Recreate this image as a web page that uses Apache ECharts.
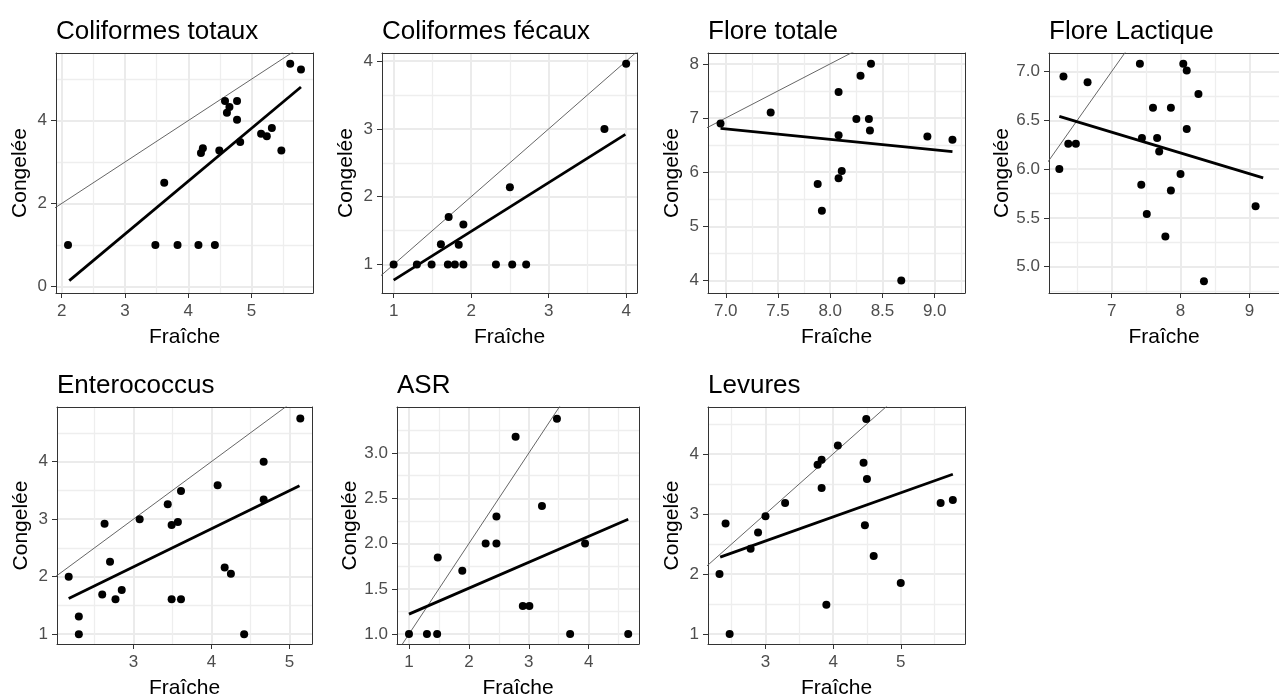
<!DOCTYPE html>
<html>
<head>
<meta charset="utf-8">
<script src="https://cdn.jsdelivr.net/npm/echarts@6/dist/echarts.min.js"></script>
<style>
  html, body { margin: 0; padding: 0; background: #fff; }
  #chart { width: 1279px; height: 700px; }
</style>
</head>
<body>
<div id="chart"></div>
<script>
// panel titles
const titles = ["Coliformes totaux", "Coliformes fécaux", "Flore totale", "Flore Lactique", "Enterococcus", "ASR", "Levures"];

// points (Fraîche = x, Congelée = y)
const totauxX = [2.1, 3.48, 3.83, 4.16, 4.42, 3.62, 4.2, 4.23, 4.49, 4.58, 4.65, 4.61, 4.77, 4.77, 4.82, 5.15, 5.24, 5.32, 5.47, 5.61, 5.78];
const totauxY = [1, 1, 1, 1, 1, 2.5, 3.22, 3.33, 3.28, 4.47, 4.33, 4.19, 4.47, 4.02, 3.48, 3.68, 3.62, 3.82, 3.28, 5.37, 5.23];

const fecauxX = [1, 1.3, 1.49, 1.7, 1.79, 1.9, 2.32, 2.53, 2.71, 1.61, 1.84, 1.71, 1.9, 2.5, 3.72, 4.0];
const fecauxY = [1, 1, 1, 1, 1, 1, 1, 1, 1, 1.3, 1.29, 1.7, 1.59, 2.14, 3.0, 3.96];

const floreTotX = [6.95, 7.43, 7.88, 7.92, 8.08, 8.08, 8.08, 8.11, 8.25, 8.29, 8.37, 8.38, 8.39, 8.68, 8.93, 9.17];
const floreTotY = [6.9, 7.1, 5.78, 5.29, 7.48, 6.68, 5.89, 6.02, 6.98, 7.78, 6.98, 6.77, 8.0, 4.0, 6.66, 6.6];

const lactiqueX = [6.24, 6.3, 6.37, 6.48, 6.65, 7.41, 7.44, 7.43, 7.51, 7.6, 7.66, 7.69, 7.78, 7.86, 7.86, 8.0, 8.04, 8.09, 8.09, 8.26, 8.34, 9.09];
const lactiqueY = [6.0, 6.95, 6.26, 6.26, 6.89, 7.08, 6.32, 5.84, 5.54, 6.63, 6.32, 6.18, 5.31, 6.63, 5.78, 5.95, 7.08, 7.01, 6.41, 6.77, 4.85, 5.62];

const enteroX = [2.17, 2.3, 2.3, 2.6, 2.63, 2.7, 2.77, 2.85, 3.08, 3.44, 3.49, 3.49, 3.57, 3.61, 3.61, 4.08, 4.17, 4.25, 4.42, 4.67, 4.67, 5.14];
const enteroY = [2.0, 1.31, 1.0, 1.69, 2.92, 2.26, 1.61, 1.77, 3.0, 3.26, 2.9, 1.61, 2.95, 3.49, 1.61, 3.59, 2.16, 2.05, 1.0, 4.0, 3.34, 4.75];

const asrX = [1, 1.3, 1.47, 1.48, 1.89, 2.28, 2.46, 2.46, 2.78, 2.9, 3.01, 3.22, 3.47, 3.69, 3.94, 4.66];
const asrY = [1, 1, 1, 1.845, 1.7, 2.0, 2.0, 2.3, 3.18, 1.31, 1.31, 2.415, 3.38, 1, 2.0, 1];

const levuresX = [2.32, 2.41, 2.47, 2.78, 2.89, 3.0, 3.29, 3.77, 3.83, 3.83, 3.9, 4.07, 4.45, 4.47, 4.49, 4.5, 4.6, 5.0, 5.59, 5.77];
const levuresY = [2.0, 2.84, 1.0, 2.42, 2.69, 2.96, 3.18, 3.82, 3.9, 3.43, 1.49, 4.14, 3.85, 2.81, 4.58, 3.58, 2.3, 1.85, 3.18, 3.23];

const pointsX = [totauxX, fecauxX, floreTotX, lactiqueX, enteroX, asrX, levuresX];
const pointsY = [totauxY, fecauxY, floreTotY, lactiqueY, enteroY, asrY, levuresY];

// regression line ends
const fitX = [[2.12, 5.78], [1.0, 3.99], [6.95, 9.17], [6.24, 9.2], [2.17, 5.13], [1.0, 4.66], [2.33, 5.77]];
const fitY = [[0.14, 4.81], [0.77, 2.92], [6.81, 6.38], [6.54, 5.91], [1.62, 3.58], [1.22, 2.27], [2.28, 3.66]];

// axis limits
const xLimits = [[1.91, 5.97], [0.85, 4.14], [6.83, 9.29], [6.09, 9.43], [2.02, 5.29], [0.80, 4.84], [2.15, 5.95]];
const yLimits = [[-0.16, 5.63], [0.58, 4.12], [3.77, 8.2], [4.73, 7.19], [0.83, 4.95], [0.89, 3.51], [0.835, 4.78]];

// tick labels
const xTickLabels = [["2", "3", "4", "5"], ["1", "2", "3", "4"], ["7.0", "7.5", "8.0", "8.5", "9.0"], ["7", "8", "9"], ["3", "4", "5"], ["1", "2", "3", "4"], ["3", "4", "5"]];
const yTickLabels = [["0", "2", "4"], ["1", "2", "3", "4"], ["4", "5", "6", "7", "8"], ["5.0", "5.5", "6.0", "6.5", "7.0"], ["1", "2", "3", "4"], ["1.0", "1.5", "2.0", "2.5", "3.0"], ["1", "2", "3", "4"]];
const xMinor = [[2.5, 3.5, 4.5, 5.5], [1.5, 2.5, 3.5], [7.25, 7.75, 8.25, 8.75, 9.25], [6.5, 7.5, 8.5], [2.5, 3.5, 4.5], [1.5, 2.5, 3.5, 4.5], [2.5, 3.5, 4.5, 5.5]];
const yMinor = [[1, 3, 5], [1.5, 2.5, 3.5], [4.5, 5.5, 6.5, 7.5], [4.75, 5.25, 5.75, 6.25, 6.75], [1.5, 2.5, 3.5, 4.5], [1.25, 1.75, 2.25, 2.75, 3.25], [1.5, 2.5, 3.5, 4.5]];

const xName = "Fraîche";
const yName = "Congelée";

// panel boxes [left, top, width, height]
const boxes = [
  [56, 53, 257, 240],
  [382, 53, 255, 240],
  [708, 53, 257, 240],
  [1049, 53, 256, 240],
  [57, 407, 255, 239],
  [397, 407, 242, 239],
  [708, 407, 257, 239]
];

const font = "'Liberation Sans', Arial, sans-serif";
const chart = echarts.init(document.getElementById("chart"));

let grids = [], xAxes = [], yAxes = [], series = [], titleList = [];

for (let i = 0; i < titles.length; i++) {
  const b = boxes[i];
  grids.push({ left: b[0], top: b[1], width: b[2], height: b[3], containLabel: false });
  titleList.push({
    text: titles[i], left: b[0], top: b[1] - 34, padding: 0,
    textStyle: { fontFamily: font, fontSize: 26, fontWeight: "normal", color: "#000" }
  });

  const xVals = xTickLabels[i].map(Number);
  const yVals = yTickLabels[i].map(Number);
  const border = { show: true, onZero: false, lineStyle: { color: "#333", width: 1 } };

  xAxes.push({
    gridIndex: i, type: "value", position: "bottom", min: xLimits[i][0], max: xLimits[i][1],
    name: xName, nameLocation: "middle", nameGap: 34,
    nameTextStyle: { fontFamily: font, fontSize: 21, color: "#000" },
    axisLine: border,
    axisTick: { show: true, length: 5, customValues: xVals, lineStyle: { color: "#333" } },
    axisLabel: {
      customValues: xVals, margin: 10, fontFamily: font, fontSize: 17, color: "#4d4d4d",
      formatter: v => xTickLabels[i][xVals.indexOf(v)]
    },
    splitLine: { show: true, lineStyle: { color: "#ebebeb", width: 2 } }
  });
  xAxes.push({
    gridIndex: i, type: "value", position: "top", min: xLimits[i][0], max: xLimits[i][1],
    axisLine: border,
    axisTick: { show: false, customValues: xMinor[i] },
    axisLabel: { show: false },
    splitLine: { show: true, lineStyle: { color: "#eeeeee", width: 1.3 } }
  });
  yAxes.push({
    gridIndex: i, type: "value", position: "left", min: yLimits[i][0], max: yLimits[i][1],
    name: yName, nameLocation: "middle", nameGap: 25,
    nameTextStyle: { fontFamily: font, fontSize: 21, color: "#000" },
    axisLine: border,
    axisTick: { show: true, length: 5, customValues: yVals, lineStyle: { color: "#333" } },
    axisLabel: {
      customValues: yVals, margin: 9, fontFamily: font, fontSize: 17, color: "#4d4d4d",
      formatter: v => yTickLabels[i][yVals.indexOf(v)]
    },
    splitLine: { show: true, lineStyle: { color: "#ebebeb", width: 2 } }
  });
  yAxes.push({
    gridIndex: i, type: "value", position: "right", min: yLimits[i][0], max: yLimits[i][1],
    axisLine: border,
    axisTick: { show: false, customValues: yMinor[i] },
    axisLabel: { show: false },
    splitLine: { show: true, lineStyle: { color: "#eeeeee", width: 1.3 } }
  });

  // y = x reference line, clipped to the panel
  const lo = Math.min(xLimits[i][0], yLimits[i][0]);
  const hi = Math.max(xLimits[i][1], yLimits[i][1]);
  series.push({
    type: "line", xAxisIndex: 2 * i, yAxisIndex: 2 * i, clip: true,
    data: [[lo, lo], [hi, hi]], showSymbol: false, silent: true,
    lineStyle: { color: "#555", width: 0.9 }, z: 3
  });
  series.push({
    type: "scatter", xAxisIndex: 2 * i, yAxisIndex: 2 * i,
    data: pointsX[i].map((x, k) => [x, pointsY[i][k]]),
    symbolSize: 8, itemStyle: { color: "#000", opacity: 1 }, z: 4
  });
  series.push({
    type: "line", xAxisIndex: 2 * i, yAxisIndex: 2 * i, clip: true,
    data: [[fitX[i][0], fitY[i][0]], [fitX[i][1], fitY[i][1]]], showSymbol: false,
    lineStyle: { color: "#000", width: 2.8 }, z: 5
  });
}

chart.setOption({
  animation: false,
  backgroundColor: "#fff",
  title: titleList,
  grid: grids,
  xAxis: xAxes,
  yAxis: yAxes,
  series: series
});
</script>
</body>
</html>
